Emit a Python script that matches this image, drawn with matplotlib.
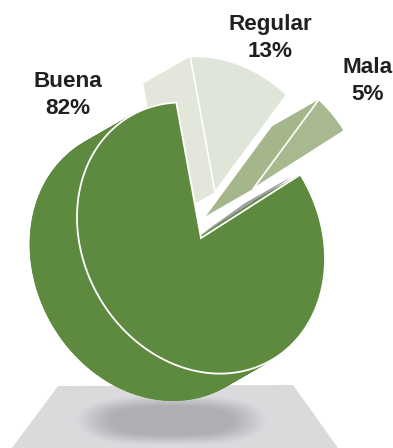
import numpy as np
import matplotlib
matplotlib.use("Agg")
import matplotlib.pyplot as plt
from matplotlib.collections import PolyCollection
from matplotlib.colors import to_rgb
from matplotlib.patches import Polygon

plt.rcParams["font.family"] = ["Liberation Sans", "DejaVu Sans"]

# slices run counter-clockwise from the start angle
labels = ["Buena", "Mala", "Regular"]
values = [82, 5, 13]
explode_px = [(0, 0), (52, -49), (14, -46)]
radius_scale = [1.0, 0.92, 1.0]

front_colors = ["#5e8a3f", "#a9b98f", "#dfe5d8"]
side_colors = ["#5e8a3f", "#a6b68b", "#e3e6da"]

label_pos = {"Buena": (68, 95), "Mala": (368, 81), "Regular": (270, 38)}

START = 101.5
CX, CY = 201, 238
RX, RY_SKEW, RY = 124, 20.8, 134.0
DEPTH = np.array([-47, 27])


def arc(a0, a1, cx, cy, s=1.0):
    # the disc is a tilted ellipse, leaning up-left to down-right
    t = np.radians(np.linspace(a0, a1, 200))
    return np.column_stack([cx + s * RX * np.cos(t),
                            cy + s * (RY_SKEW * np.cos(t) - RY * np.sin(t))])


def wedge(a0, a1, cx, cy, s=1.0):
    return np.vstack([[cx, cy], arc(a0, a1, cx, cy, s)])


def pulled_slice(a0, a1, off, s, fc, sc):
    # front face plus the one side that stays visible
    cx, cy = CX + off[0], CY + off[1]
    edge = arc(a1, a1, cx, cy, s)[0]
    apex = np.array([cx, cy])
    ax.add_patch(Polygon([edge, edge + DEPTH, apex + DEPTH, apex], fc=sc, ec="none", zorder=3))
    ax.add_patch(Polygon(wedge(a0, a1, cx, cy, s), fc=fc, ec="white", lw=1.2, zorder=4))


fig = plt.figure(figsize=(3.93, 4.48), dpi=100)
ax = fig.add_axes([0, 0, 1, 1])

# floor under the pie
ax.add_patch(Polygon([(58, 386), (293, 385), (338, 448), (12, 448)], fc="#d9dadc", ec="none", zorder=1))

# soft shadow on the floor
xx, yy = np.meshgrid(np.arange(60, 290), np.arange(386, 448))
dist = (np.abs(xx - 171) / 80.0) ** 3 + (np.abs(yy - 420) / 20.0) ** 2.4
alpha = np.clip((1.7 - dist) / 1.3, 0, 1) ** 1.3
shadow = np.zeros(xx.shape + (4,))
shadow[..., :3] = to_rgb("#aeafb3")
shadow[..., 3] = alpha
ax.imshow(shadow, extent=(60, 290, 448, 386), interpolation="bilinear", aspect="auto", zorder=2)

angles = np.array(values) / sum(values) * 360.0
starts = START + np.concatenate([[0], np.cumsum(angles)[:-1]])
parts = dict(zip(labels, zip(starts, starts + angles, explode_px, radius_scale, front_colors, side_colors)))

pulled_slice(*parts["Regular"])
pulled_slice(*parts["Mala"])

# thin grey sliver along the cut of the big slice
ax.add_patch(Polygon([(203, 233), (245, 203), (291, 177), (245, 210)], fc="#a0a0a5", ec="none", zorder=5))

# big slice: extruded body first, then the white-edged front face
a0, a1, off, s, fc, sc = parts["Buena"]
front = arc(a0, a1, CX, CY)
back = front + DEPTH
quads = [[front[i], front[i + 1], back[i + 1], back[i]] for i in range(len(front) - 1)]
ax.add_collection(PolyCollection(quads, facecolors=sc, edgecolors=sc, linewidths=0.6, zorder=6))
ax.add_patch(Polygon(wedge(a0, a1, CX + DEPTH[0], CY + DEPTH[1]), fc=sc, ec="none", zorder=6))
ax.add_patch(Polygon(wedge(a0, a1, CX, CY), fc=fc, ec="white", lw=1.3, zorder=7))

for name, val in zip(labels, values):
    x, y = label_pos[name]
    ax.text(x, y, f"{name}\n{val}%", ha="center", va="center", fontsize=16.2, fontweight="bold",
            color="#231f20", linespacing=1.42, zorder=8)

ax.set_xlim(0, 393)
ax.set_ylim(448, 0)
ax.axis("off")

fig.savefig("out.png", dpi=100)
